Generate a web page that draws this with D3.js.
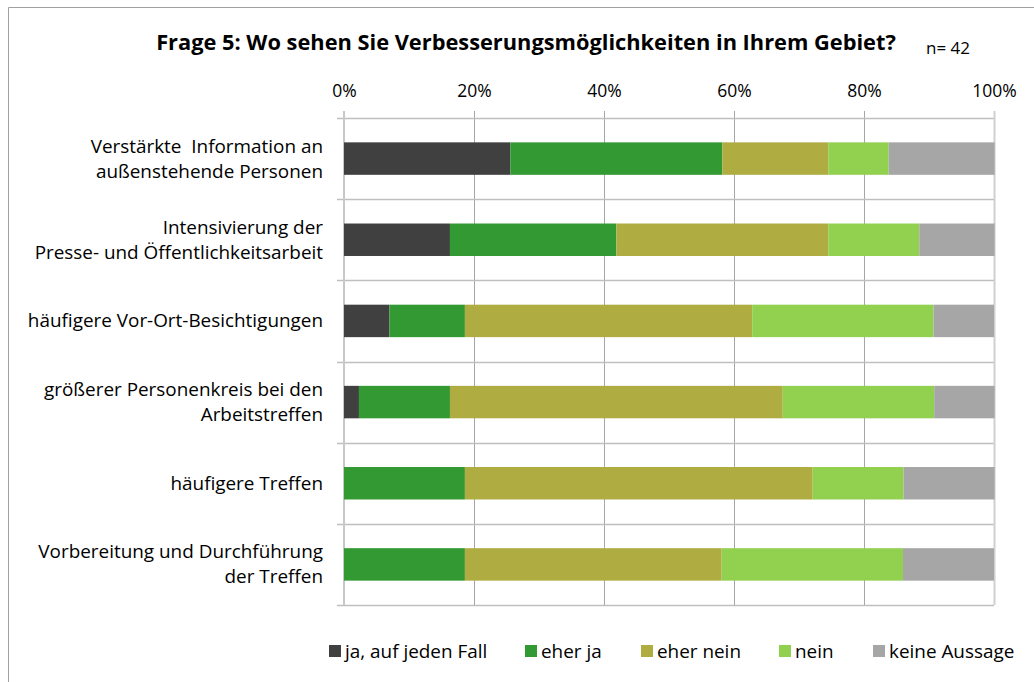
<!DOCTYPE html>
<html><head><meta charset="utf-8">
<script src="https://cdn.jsdelivr.net/npm/d3@7"></script>
<style>
html,body{margin:0;padding:0;background:#fff;}
svg{display:block;font-family:"Open Sans",Lato,sans-serif;}
</style></head>
<body>
<svg id="c" width="1034" height="682"></svg>
<script>
const categories = [
  ["Verstärkte  Information an", "außenstehende Personen"],
  ["Intensivierung der", "Presse- und Öffentlichkeitsarbeit"],
  ["häufigere Vor-Ort-Besichtigungen"],
  ["größerer Personenkreis bei den", "Arbeitstreffen"],
  ["häufigere Treffen"],
  ["Vorbereitung und Durchführung", "der Treffen"]
];
const seriesNames = ["ja, auf jeden Fall", "eher ja", "eher nein", "nein", "keine Aussage"];
const seriesColors = ["#404040", "#339933", "#AFAD42", "#92D050", "#A6A6A6"];
// percent values per category
const jaAufJedenFall = [25.6, 16.3, 7.0, 2.3, 0.0, 0.0];
const eherJa         = [32.6, 25.6, 11.6, 14.0, 18.6, 18.6];
const eherNein       = [16.3, 32.6, 44.2, 51.2, 53.5, 39.5];
const nein           = [9.3, 14.0, 27.9, 23.3, 14.0, 27.9];
const keineAussage   = [16.3, 11.6, 9.3, 9.3, 14.0, 14.0];
const tickValues = [0, 20, 40, 60, 80, 100];
const title = "Frage 5: Wo sehen Sie Verbesserungsmöglichkeiten in Ihrem Gebiet?";
const nLabel = "n= 42";

const seriesData = [jaAufJedenFall, eherJa, eherNein, nein, keineAussage];
const rows = categories.map((c, i) => {
  const o = {idx: i};
  seriesNames.forEach((s, j) => o[s] = seriesData[j][i]);
  return o;
});

const svg = d3.select("#c");
const pLeft = 344, pRight = 994, pTop = 118, pBottom = 605;
const x = d3.scaleLinear().domain([0, 100]).range([pLeft, pRight]);
const y = d3.scaleBand().domain(d3.range(categories.length)).range([pTop, pBottom]).paddingInner(0.6).paddingOuter(0.3);
const band = d3.scaleBand().domain(d3.range(categories.length)).range([pTop, pBottom]);

// outer border (partially visible)
svg.append("path").attr("d", "M8.5,700 V7.5 H1050").attr("fill", "none").attr("stroke", "#a0a0a0").attr("stroke-width", 1);

// title
svg.append("text").attr("x", 526).attr("y", 50).attr("text-anchor", "middle")
  .attr("font-size", 21.8).attr("font-weight", "bold").attr("fill", "#000").text(title);
svg.append("text").attr("x", 926).attr("y", 54).attr("font-size", 17).attr("fill", "#000").text(nLabel);

// vertical grid
svg.append("g").selectAll("line").data(tickValues.slice(1, -1)).join("line")
  .attr("x1", d => x(d) + 0.5).attr("x2", d => x(d) + 0.5)
  .attr("y1", pTop - 7).attr("y2", pBottom).attr("stroke", "#a6a6a6").attr("stroke-width", 1);

// horizontal separators
const seps = d3.range(categories.length + 1).map(i => i === categories.length ? pBottom : band(i));
svg.append("g").selectAll("line").data(seps).join("line")
  .attr("x1", pLeft - 7).attr("x2", pRight).attr("y1", d => Math.round(d) + 0.5).attr("y2", d => Math.round(d) + 0.5)
  .attr("stroke", "#bfbfbf").attr("stroke-width", 1.3);

// left and right edges
svg.append("line").attr("x1", pLeft).attr("x2", pLeft).attr("y1", pTop - 7).attr("y2", pBottom)
  .attr("stroke", "#c8c8c8").attr("stroke-width", 2);
svg.append("line").attr("x1", pRight + 0.5).attr("x2", pRight + 0.5).attr("y1", pTop - 7).attr("y2", pBottom)
  .attr("stroke", "#d0d0d0").attr("stroke-width", 2);

// top axis
const axis = d3.axisTop(x).tickValues(tickValues).tickFormat(d => d + "%").tickSize(0);
const ag = svg.append("g").attr("transform", `translate(0,${pTop - 18})`).call(axis);
ag.select(".domain").remove();
ag.selectAll("text").attr("font-size", 17.5).attr("fill", "#000").attr("font-family", "'Open Sans',Lato,sans-serif");

// bars
const stack = d3.stack().keys(seriesNames)(rows);
svg.append("g").selectAll("g").data(stack).join("g")
  .attr("fill", (d, i) => seriesColors[i])
  .selectAll("rect").data(d => d).join("rect")
  .attr("x", d => x(d[0])).attr("width", d => x(d[1]) - x(d[0]))
  .attr("y", d => y(d.data.idx)).attr("height", y.bandwidth());

// category labels
const lab = svg.append("g");
categories.forEach((lines, i) => {
  const cy = band(i) + band.bandwidth() / 2;
  const lh = 25;
  const t = lab.append("text").attr("text-anchor", "end").attr("font-size", 18.9).attr("fill", "#000")
    .attr("style", "white-space:pre");
  lines.forEach((l, k) => {
    t.append("tspan").attr("x", 323).attr("y", cy + (k - (lines.length - 1) / 2) * lh + 6.5).text(l);
  });
});

// legend
const legendX = [329, 525, 641, 779, 873];
const lg = svg.append("g");
seriesNames.forEach((s, i) => {
  lg.append("rect").attr("x", legendX[i]).attr("y", 645).attr("width", 12).attr("height", 12).attr("fill", seriesColors[i]);
  lg.append("text").attr("x", legendX[i] + 16).attr("y", 658).attr("font-size", 18.9).attr("fill", "#000").text(s);
});
</script>
</body></html>
